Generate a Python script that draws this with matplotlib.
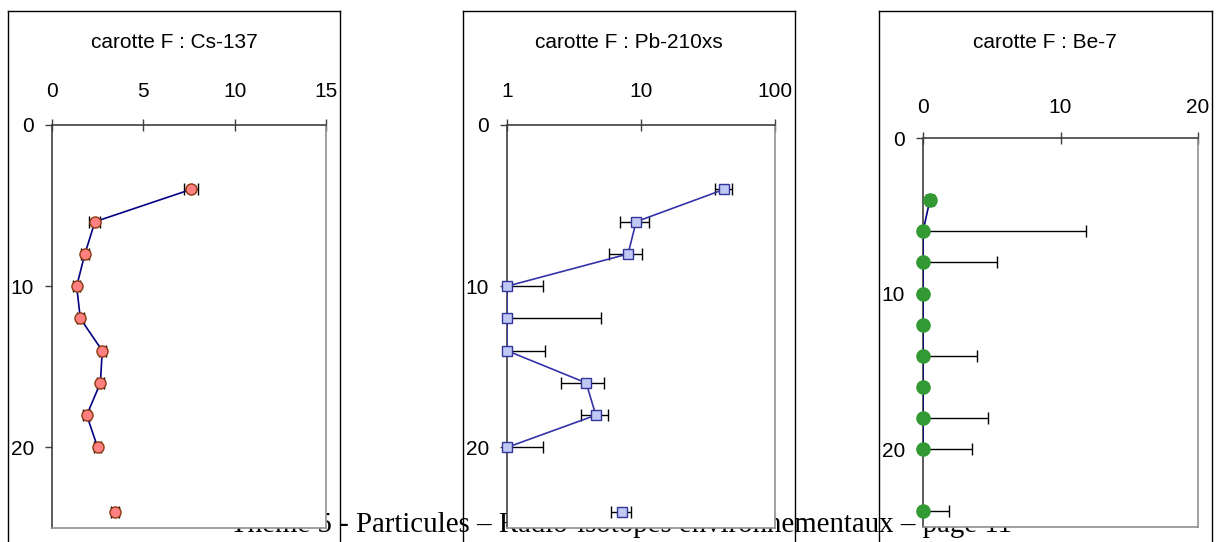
import numpy as np
import matplotlib
matplotlib.use('Agg')
import matplotlib.pyplot as plt
from matplotlib.lines import Line2D

plt.rcParams['font.family'] = ['Liberation Sans', 'DejaVu Sans']

# depth (cm)
depth = [4, 6, 8, 10, 12, 14, 16, 18, 20, 24]

# Cs-137
cs = [7.6, 2.35, 1.8, 1.35, 1.55, 2.75, 2.65, 1.9, 2.5, 3.45]
cs_err = [0.4, 0.3, 0.2, 0.2, 0.2, 0.2, 0.2, 0.2, 0.2, 0.2]

# Pb-210xs
pb = [41.5, 9.2, 8.0, 1.0, 1.0, 1.0, 3.9, 4.6, 1.0, 7.2]
pb_err = [6.0, 2.2, 2.2, 0.86, 4.0, 0.92, 1.35, 1.05, 0.86, 1.2]

# Be-7
be = [0.5, 0.0, 0.0, 0.0, 0.0, 0.0, 0.0, 0.0, 0.0, 0.0]
be_err = [0.3, 11.85, 5.4, 0.0, 0.1, 3.95, 0.0, 4.7, 3.55, 1.9]

titles = ['carotte F : Cs-137', 'carotte F : Pb-210xs', 'carotte F : Be-7']
footer = 'Thème 5 - Particules – Radio-isotopes environnementaux – page 11'

W, H = 1216, 542
fig = plt.figure(figsize=(W / 100, H / 100), dpi=100)


def box(l, t, r, b):
    return [l / W, 1 - b / H, (r - l) / W, (b - t) / H]


def frame(l, r, t):
    for xs, ys in [([l, l], [t, H + 20]), ([l, r], [t, t]), ([r, r], [t, H + 20])]:
        fig.add_artist(Line2D([x / W for x in xs], [1 - y / H for y in ys],
                              transform=fig.transFigure, color='black', lw=1, zorder=10))


def style(ax, xpad):
    ax.set_facecolor('white')
    ax.xaxis.tick_top()
    ax.spines['top'].set_color('#404040')
    ax.spines['left'].set_color('#404040')
    ax.spines['right'].set_color('#909090')
    ax.spines['bottom'].set_color('#909090')
    for s in ax.spines.values():
        s.set_linewidth(1.2)
    ax.tick_params(axis='x', direction='inout', length=8, width=1, pad=xpad,
                   labelsize=15, color='#404040')
    ax.tick_params(axis='y', direction='out', length=5, width=1, pad=8,
                   labelsize=15, color='#404040')
    ax.set_ylim(25, 0)
    ax.set_yticks([0, 10, 20])
    ax.minorticks_off()


def draw(ax, x, err, lcolor, marker, face, edge, ms):
    ax.errorbar(x, depth, xerr=err, fmt='none', ecolor='black', elinewidth=1,
                capsize=4, capthick=1, zorder=2)
    ax.plot(x[:9], depth[:9], color=lcolor, lw=1.2, zorder=3)
    ax.plot(x, depth, ls='none', marker=marker, ms=ms, mfc=face, mec=edge,
            mew=1, zorder=4, clip_on=False)


# panel 1
ax1 = fig.add_axes(box(52, 125, 326, 528))
style(ax1, 13)
ax1.set_xlim(0, 15)
ax1.set_xticks([0, 5, 10, 15])
draw(ax1, cs, cs_err, '#000080', 'o', '#FF8080', '#8B3A10', 8)
frame(8, 340, 11)
fig.text(174 / W, 1 - 42 / H, titles[0], ha='center', va='center', fontsize=15)

# panel 2
ax2 = fig.add_axes(box(507, 125, 775, 528))
style(ax2, 13)
ax2.set_xscale('log')
ax2.set_xlim(1, 100)
ax2.set_xticks([1, 10, 100])
ax2.set_xticklabels(['1', '10', '100'])
ax2.minorticks_off()
draw(ax2, pb, pb_err, '#3333AA', 's', '#C0C8F4', '#333399', 7)
frame(463, 795, 11)
fig.text(629 / W, 1 - 42 / H, titles[1], ha='center', va='center', fontsize=15)

# panel 3
ax3 = fig.add_axes(box(923, 138, 1198, 527))
style(ax3, 11)
ax3.set_xlim(0, 20)
ax3.set_xticks([0, 10, 20])
draw(ax3, be, be_err, '#000080', 'o', '#339933', '#339933', 9.5)
frame(879, 1212, 11)
fig.text(1045 / W, 1 - 42 / H, titles[2], ha='center', va='center', fontsize=15)

fig.text(621 / W, 1 - 532 / H, footer, ha='center', va='baseline',
         fontsize=20.8, family='Liberation Serif', zorder=-1)

fig.savefig('out.png', dpi=100)
